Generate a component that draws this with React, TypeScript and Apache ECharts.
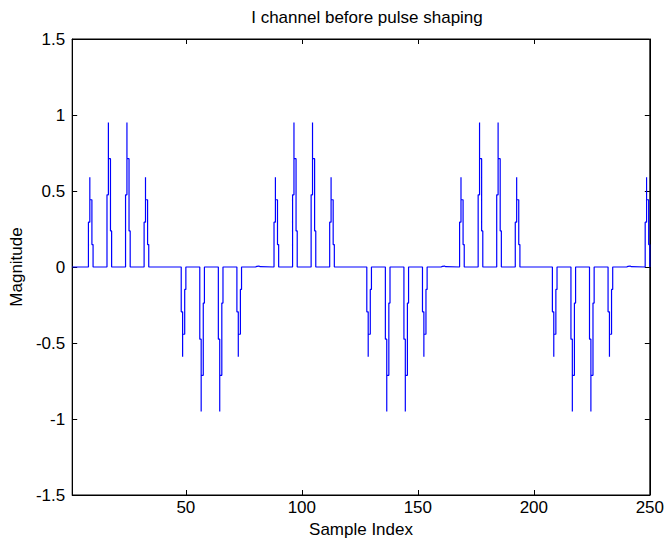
import React, { useEffect, useRef } from "react";
import * as echarts from "echarts";

// Symbol start positions (sample index) and their amplitudes
const pulseStarts = [
  8, 16, 24, 32, 40, 48, 56, 64, 72, 80,
  88, 96, 104, 112, 120, 128, 136, 144, 152, 160,
  168, 176, 184, 192, 200, 208, 216, 224, 232, 240,
  248,
];
const amplitudes = [
  0.59, 0.95, 0.95, 0.59, 0, -0.59, -0.95, -0.95, -0.59, 0.008,
  0.59, 0.95, 0.95, 0.59, 0, -0.59, -0.95, -0.95, -0.59, 0.008,
  0.59, 0.95, 0.95, 0.59, 0, -0.59, -0.95, -0.95, -0.59, 0.008,
  0.59,
];
// Shape of each pulse: offsets (in samples) and level as a fraction of amplitude
const pulseOffsets = [0, 0, 0.6, 0.6, 0.6, 1.5, 1.5, 2.0, 2.0];
const pulseLevels = [0, 0.5, 0.5, 1, 0.75, 0.75, 0.25, 0.25, 0];

const xTicks = [50, 100, 150, 200, 250];
const xMin = 1;
const xMax = 250;

export default function App() {
  const ref = useRef<HTMLDivElement>(null);
  useEffect(() => {
    if (!ref.current) return;
    const chart = echarts.init(ref.current, null, { renderer: "svg" });
    const data: number[][] = [[xMin, 0]];
    pulseStarts.forEach((s, i) => {
      const a = amplitudes[i];
      if (a === 0) return;
      pulseOffsets.forEach((o, j) => {
        data.push([s + o, a * pulseLevels[j]]);
      });
    });
    data.push([xMax, 0]);

    const font = "Liberation Sans, Arial, sans-serif";
    const tickCommon = {
      show: true,
      inside: true,
      length: 5,
      lineStyle: { color: "#000", width: 1 },
    };
    const axisLine = { show: true, onZero: false, lineStyle: { color: "#000" } };
    chart.setOption({
      animation: false,
      backgroundColor: "#fff",
      title: {
        text: "I channel before pulse shaping",
        left: 362,
        top: 4,
        textAlign: "center",
        textStyle: { fontFamily: font, fontSize: 17, fontWeight: "normal", color: "#000" },
      },
      grid: {
        left: 72,
        right: 15,
        top: 39,
        bottom: 48,
        show: true,
        borderColor: "#000",
        borderWidth: 1,
        backgroundColor: "#fff",
      },
      xAxis: [
        {
          type: "value",
          min: xMin,
          max: xMax,
          position: "bottom",
          name: "Sample Index",
          nameLocation: "middle",
          nameGap: 24,
          nameTextStyle: { fontFamily: font, fontSize: 17, color: "#000" },
          axisLine,
          axisTick: { ...tickCommon, customValues: xTicks },
          axisLabel: {
            customValues: xTicks,
            fontFamily: font,
            fontSize: 17,
            color: "#000",
            margin: 4,
          },
          splitLine: { show: false },
        },
        {
          type: "value",
          min: xMin,
          max: xMax,
          position: "top",
          axisLine,
          axisTick: { ...tickCommon, customValues: xTicks },
          axisLabel: { show: false },
          splitLine: { show: false },
        },
      ],
      yAxis: [
        {
          type: "value",
          min: -1.5,
          max: 1.5,
          interval: 0.5,
          position: "left",
          name: "Magnitude",
          nameLocation: "middle",
          nameRotate: 90,
          nameGap: 46,
          nameTextStyle: { fontFamily: font, fontSize: 17, color: "#000" },
          axisLine,
          axisTick: tickCommon,
          axisLabel: { fontFamily: font, fontSize: 17, color: "#000", margin: 7 },
          splitLine: { show: false },
        },
        {
          type: "value",
          min: -1.5,
          max: 1.5,
          interval: 0.5,
          position: "right",
          axisLine,
          axisTick: tickCommon,
          axisLabel: { show: false },
          splitLine: { show: false },
        },
      ],
      series: [
        {
          type: "line",
          xAxisIndex: 0,
          yAxisIndex: 0,
          data,
          showSymbol: false,
          symbol: "none",
          clip: true,
          lineStyle: { color: "#0000ff", width: 1.2 },
        },
      ],
    });
    return () => chart.dispose();
  }, []);
  return (
    <div
      ref={ref}
      style={{ position: "fixed", left: 0, top: 0, width: 667, height: 543 }}
    />
  );
}
